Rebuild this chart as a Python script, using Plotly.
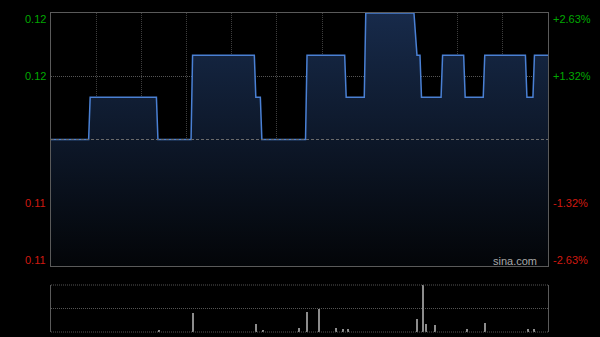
import plotly.graph_objects as go

# ---- data ----
prev_close = 0.114
price_minutes = [0, 25, 26, 70, 71, 93, 94, 135, 136, 139, 140, 169, 170, 195, 196, 208, 209,
                 241, 243, 245, 246, 259, 260, 274, 275, 287, 288, 315, 316, 320, 321, 330]
price_values = [0.114, 0.114, 0.115, 0.115, 0.114, 0.114, 0.116, 0.116, 0.115, 0.115, 0.114,
                0.114, 0.116, 0.116, 0.115, 0.115, 0.117, 0.117, 0.116, 0.116, 0.115, 0.115,
                0.116, 0.116, 0.115, 0.115, 0.116, 0.116, 0.115, 0.115, 0.116, 0.116]
vol_minutes = [72, 94, 136, 141, 165, 170, 178, 189, 194, 197, 243, 247, 249, 255, 276, 288, 317, 321]
vol_values = [8000, 80000, 34000, 8000, 16000, 86000, 100000, 16000, 12000, 14000, 56000,
              200000, 36000, 28000, 12000, 40000, 14000, 12000]
price_ticks = [0.117, 0.1155, 0.1125, 0.111]
price_tick_labels = ["0.12", "0.12", "0.11", "0.11"]
pct_tick_labels = ["+2.63%", "+1.32%", "-1.32%", "-2.63%"]
time_grid = [30, 60, 90, 120, 150, 180, 210, 240, 270, 300]

GREEN = "#00a800"
RED = "#d01a10"
BORDER = "#5a5a5a"
GRID = "#3e3e3e"
DOT = "1px,1px"

fig = go.Figure()
fig.add_trace(go.Scatter(
    x=price_minutes, y=price_values, mode="lines",
    line=dict(color="#4a80d4", width=1.5),
    fill="tozeroy",
    fillgradient=dict(type="vertical", colorscale=[[0, "#030508"], [1, "#172a4a"]],
                      start=0.111, stop=0.117),
    xaxis="x", yaxis="y", hoverinfo="skip"))
fig.add_trace(go.Bar(
    x=vol_minutes, y=vol_values, width=0.7,
    marker=dict(color="#8c8c8c", line=dict(width=0)),
    xaxis="x2", yaxis="y2", hoverinfo="skip"))

vmax = max(vol_values)
fig.update_layout(
    width=600, height=337, paper_bgcolor="black", plot_bgcolor="black",
    margin=dict(l=51, r=52, t=0, b=0), showlegend=False, bargap=0,
    xaxis=dict(domain=[0, 1], range=[0, 330], tickvals=time_grid, showticklabels=False,
               showgrid=True, gridcolor=GRID, griddash=DOT, gridwidth=1,
               showline=True, mirror=True, linecolor=BORDER, linewidth=1, zeroline=False,
               ticks=""),
    yaxis=dict(domain=[1 - 266 / 337, 1 - 13 / 337], range=[0.111, 0.117],
               tickvals=[0.1155, 0.1125], showticklabels=False,
               showgrid=True, gridcolor="#555555", griddash=DOT, gridwidth=1,
               showline=True, mirror=True, linecolor=BORDER, linewidth=1, zeroline=False),
    xaxis2=dict(domain=[0, 1], range=[0, 330], anchor="y2", showticklabels=False,
                showgrid=False, showline=False, zeroline=False, ticks=""),
    yaxis2=dict(domain=[1 - 332 / 337, 1 - 285 / 337], range=[0, vmax], anchor="x2",
                tickvals=[vmax / 2], showticklabels=False,
                showgrid=True, gridcolor="#555555", griddash=DOT, gridwidth=1,
                showline=True, mirror=True, linecolor=BORDER, linewidth=1, zeroline=False),
)

# previous close line
fig.add_shape(type="line", xref="x domain", yref="y", x0=0, x1=1, y0=prev_close, y1=prev_close,
              line=dict(color="#6a6a6a", width=1, dash="3px,2px"), layer="above")
# volume panel top / bottom dotted lines
for yv in (0, 1):
    fig.add_shape(type="line", xref="x2 domain", yref="y2 domain", x0=0, x1=1, y0=yv, y1=yv,
                  line=dict(color="#555555", width=1, dash=DOT), layer="above")

shifts = [-6, 0, 0, 6]
for i, val in enumerate(price_ticks):
    col = GREEN if val > prev_close else RED
    fig.add_annotation(xref="paper", yref="y", x=0, y=val, xanchor="right", yanchor="middle",
                       text=price_tick_labels[i], showarrow=False, xshift=-3, yshift=shifts[i],
                       font=dict(family="Liberation Sans, Arial", size=11, color=col))
    fig.add_annotation(xref="paper", yref="y", x=1, y=val, xanchor="left", yanchor="middle",
                       text=pct_tick_labels[i], showarrow=False, xshift=3, yshift=shifts[i],
                       font=dict(family="Liberation Sans, Arial", size=11, color=col))

fig.add_annotation(xref="paper", yref="y", x=1, y=0.111, xanchor="right", yanchor="middle",
                   text="sina.com", showarrow=False, xshift=-9, yshift=5,
                   font=dict(family="Liberation Sans, Arial", size=11, color="#a8a8a8"))

fig.write_html("out.html")
